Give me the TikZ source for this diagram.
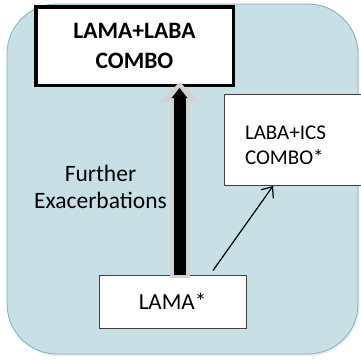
\documentclass[tikz,border=0pt]{standalone}
\usepackage{fontspec}
\setmainfont{Carlito}
\usetikzlibrary{arrows.meta}
\definecolor{bgblue}{RGB}{200,223,230}
\definecolor{bgedge}{RGB}{125,176,194}
\definecolor{arrowgray}{RGB}{210,210,210}
\definecolor{boxedge}{RGB}{64,64,64}

\begin{document}
\begin{tikzpicture}[x=1pt,y=-1pt]
	\tikzstyle{bigbox} = [draw=black, line width=3.5pt, fill=white, minimum width=197.5pt, minimum height=78.5pt, inner sep=0pt, align=center, font=\bfseries\fontsize{23.5}{30}\selectfont]
	\tikzstyle{smallbox} = [draw=boxedge, line width=1pt, fill=white, inner sep=0pt]
	\useasboundingbox (0,0) rectangle (361,359);
	\clip (0,0) rectangle (361,359);
	% background panel
	\fill [black!7, rounded corners=50pt] (8.5,5.5) rectangle (359.5,356);
	\filldraw [fill=bgblue, draw=bgedge, line width=0.8pt, rounded corners=50pt] (7,4) rectangle (358,354);

		\node[bigbox] (lamalaba) at (134.5,46) {LAMA+LABA\\COMBO};
		\node[smallbox, anchor=north west, minimum width=200pt, minimum height=91pt, inner xsep=20.5pt, text width=160pt, align=left, text depth=14pt, font=\fontsize{21}{25}\selectfont] (labaics) at (224,94) {LABA+ICS\\COMBO*};
		\node[smallbox, minimum width=147pt, minimum height=53pt, font=\fontsize{23}{28}\selectfont] (lama) at (172.5,301.5) {LAMA*};
		\node[align=center, inner sep=0pt, font=\fontsize{23.5}{27.5}\selectfont] (exac) at (100.5,187) {Further\\Exacerbations};

		\coordinate (m) at (179.5,0);
		\draw [arrowgray, line width=20pt, -{Triangle[width=40pt, length=20pt, line width=0pt]}, shorten >=-5pt] ([yshift=-3pt]m |- lama.north) -- (m |- lamalaba.south);
		\draw [black, line width=12pt, -{Triangle[width=16pt, length=10pt, line width=0pt]}, shorten >=1pt] (m |- lama.north) -- (m |- lamalaba.south);
		\draw [black, line width=1.2pt, -{Straight Barb[length=9pt, width=15pt]}] ([xshift=40.5pt, yshift=4pt]lama.north) -- ([xshift=49pt]labaics.south west);
\end{tikzpicture}
\end{document}
